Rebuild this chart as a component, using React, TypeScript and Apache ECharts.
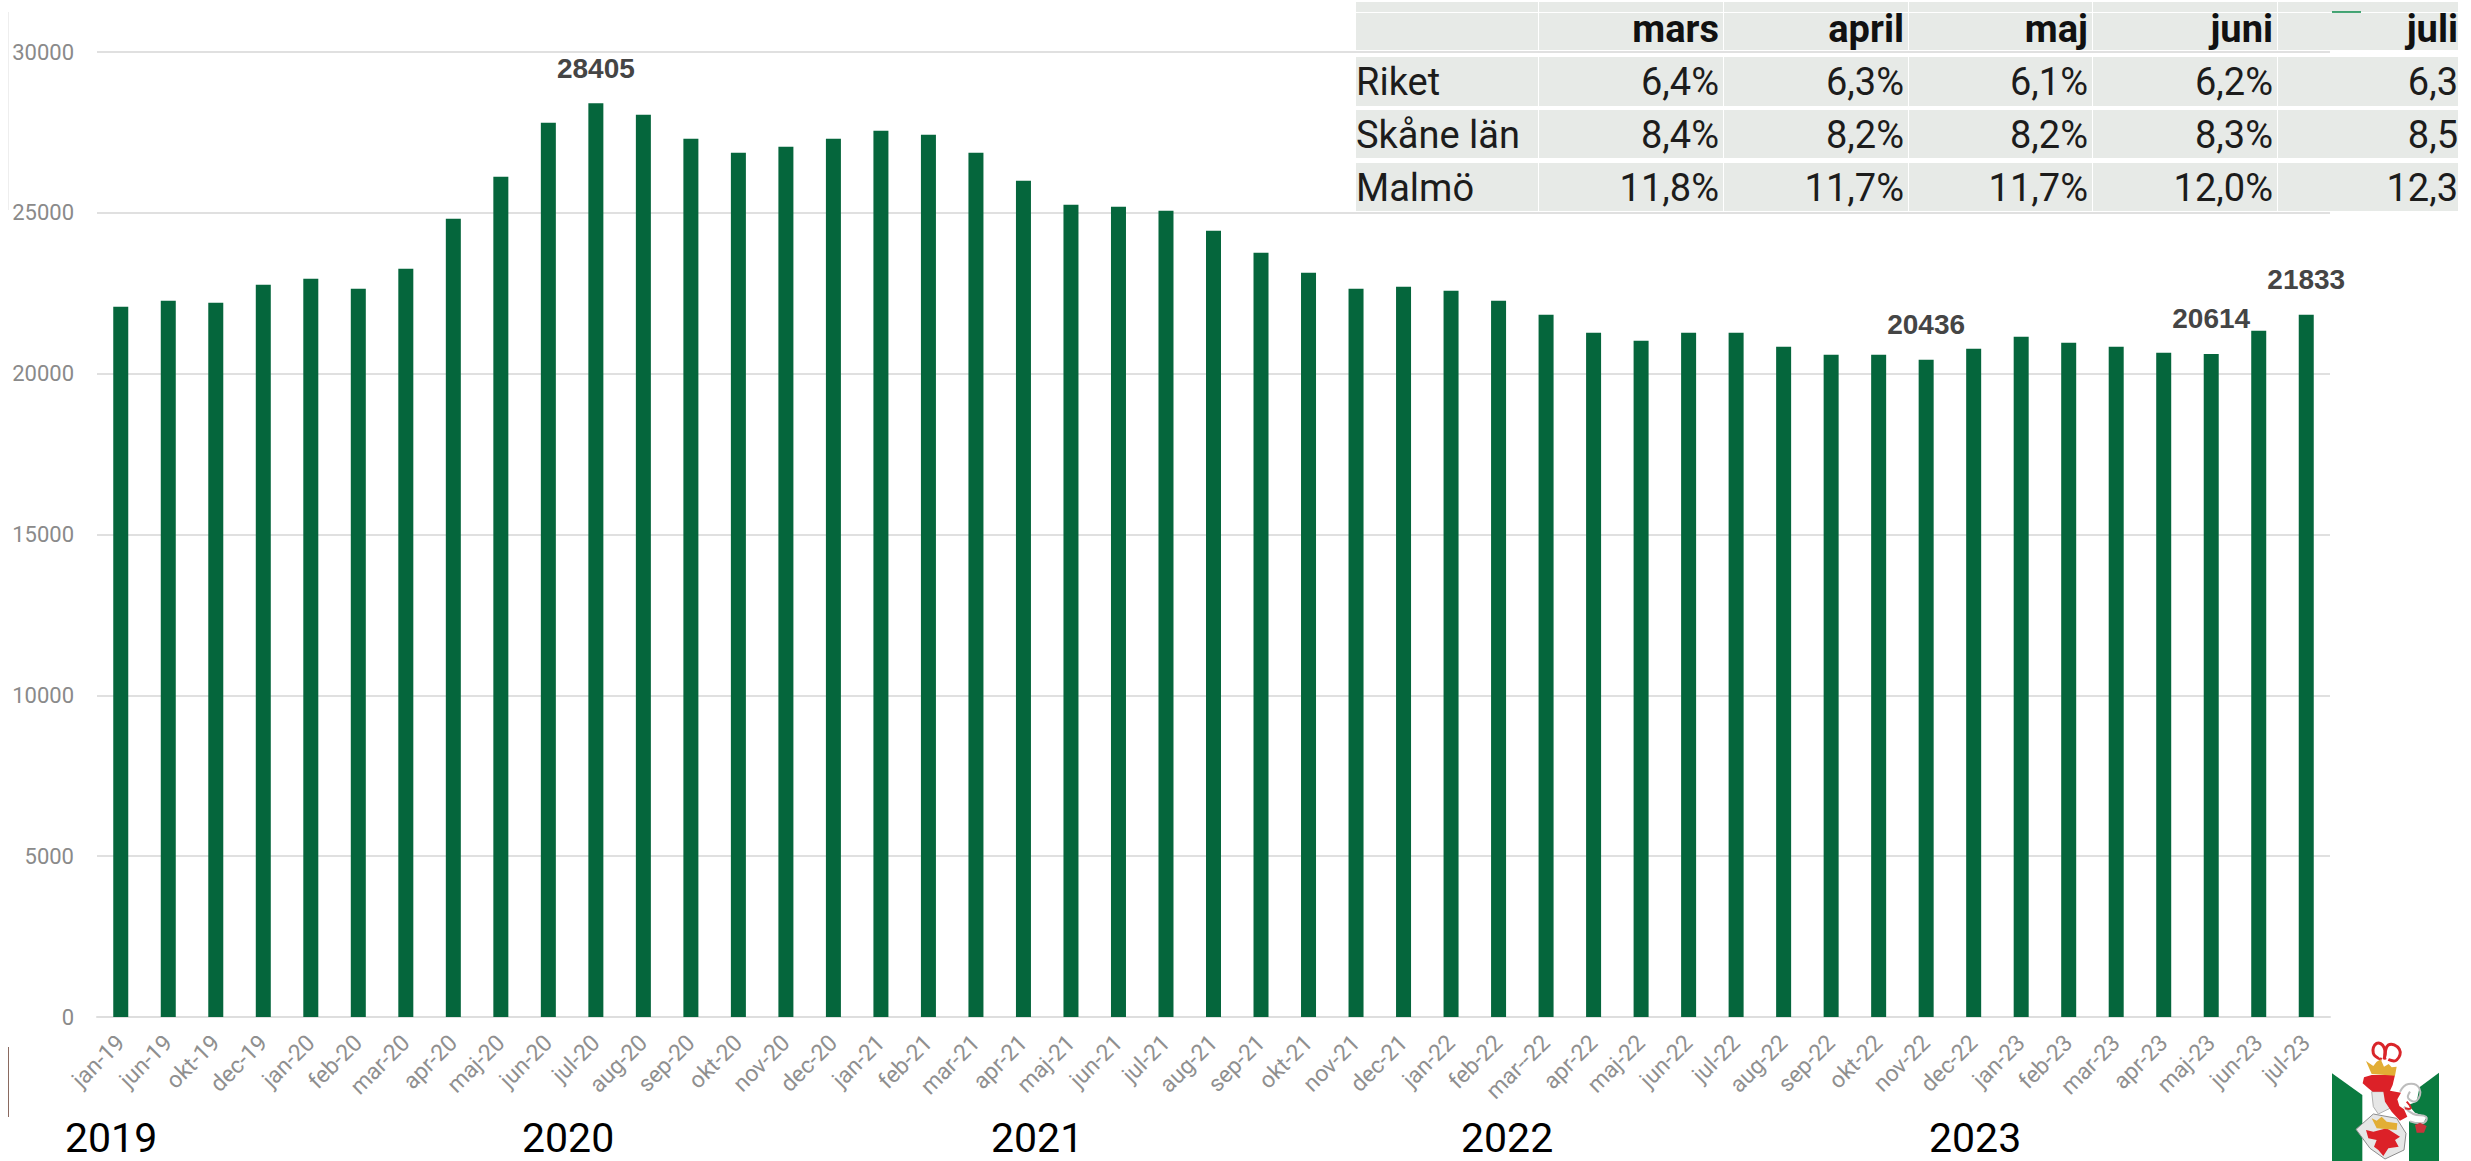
import React, { useEffect, useRef } from "react";
import * as echarts from "echarts";

const months = [
  "jan-19","jun-19","okt-19","dec-19",
  "jan-20","feb-20","mar-20","apr-20","maj-20","jun-20","jul-20","aug-20","sep-20","okt-20","nov-20","dec-20",
  "jan-21","feb-21","mar-21","apr-21","maj-21","jun-21","jul-21","aug-21","sep-21","okt-21","nov-21","dec-21",
  "jan-22","feb-22","mar--22","apr-22","maj-22","jun-22","jul-22","aug-22","sep-22","okt-22","nov-22","dec-22",
  "jan-23","feb-23","mar-23","apr-23","maj-23","jun-23","jul-23",
];
const counts = [
  22082,22270,22207,22766,
  22953,22642,23264,24817,26124,27803,28405,28051,27305,26870,27056,27305,
  27553,27429,26870,26000,25254,25192,25067,24445,23761,23137,22640,22702,
  22578,22267,21831,21272,21023,21272,21272,20837,20588,20588,20436,20775,
  21148,20961,20837,20650,20614,21334,21833,
];
const labelled = ["jul-20", "nov-22", "maj-23", "jul-23"];
const yearLabels = ["2019", "2020", "2021", "2022", "2023"];
const yearLefts = [65, 522, 991, 1461, 1929];

const tableHeaders = ["", "mars", "april", "maj", "juni", "juli"];
const tableRows = [
  ["Riket", "6,4%", "6,3%", "6,1%", "6,2%", "6,3"],
  ["Skåne län", "8,4%", "8,2%", "8,2%", "8,3%", "8,5"],
  ["Malmö", "11,8%", "11,7%", "11,7%", "12,0%", "12,3"],
];
const colEdges = [1356, 1538, 1723, 1908, 2092, 2277, 2458];
const textRights = [0, 1719, 1904, 2088, 2273, 2458];
const rowBands = [[57, 106], [110, 158], [163, 211]];
const rowCentres = [82, 135, 188];

const GREEN = "#05663C";

function logo() {
  const p = (pts: number[][]) => pts.map(([x, y]) => [2200 + x / 3, 960 + y / 3]);
  const poly = (pts: number[][], fill: string, stroke?: string, lw = 1) => ({
    type: "polygon", z: 5, shape: { points: p(pts) },
    style: { fill, stroke: stroke || "none", lineWidth: lw },
  });
  const line = (pts: number[][], stroke: string, lw = 2) => ({
    type: "polyline", z: 5, shape: { points: p(pts), smooth: 0.5 },
    style: { fill: "none", stroke, lineWidth: lw },
  });
  return [
    poly([[396, 340], [487, 405], [487, 603], [396, 603]], "#0A7B40"),
    poly([[717, 338], [627, 405], [627, 603], [717, 603]], "#0A7B40"),
    // mantling swirls
    poly([[600, 395], [625, 370], [658, 385], [650, 425], [625, 435], [645, 458], [680, 470], [670, 490], [630, 485], [605, 470]], "#ffffff"),
    line([[600, 395], [625, 372], [658, 385], [650, 422], [625, 415], [630, 395]], "#bdbdbd", 2),
    line([[612, 440], [640, 462], [678, 470], [672, 488], [630, 484]], "#bdbdbd", 2),
    poly([[645, 495], [660, 488], [680, 498], [672, 518], [650, 518]], "#c8333a"),
    line([[620, 425], [632, 445], [615, 445]], "#d9252a", 2),
    // plume
    line([[545, 298], [520, 280], [530, 250], [552, 262], [552, 298]], "#d9252a", 3),
    line([[555, 298], [565, 255], [598, 268], [590, 300], [565, 298]], "#d9252a", 3),
    poly([[540, 295], [525, 275], [535, 258], [548, 275]], "#ffffff"),
    poly([[558, 295], [568, 262], [592, 272], [585, 295]], "#ffffff"),
    // helm
    poly([[515, 395], [560, 395], [580, 440], [535, 462], [520, 440]], "#e6e6e6", "#b0b0b0"),
    // crest griffin
    poly([[492, 352], [515, 345], [585, 345], [578, 375], [570, 392], [603, 398], [592, 418], [598, 438], [612, 448], [622, 470], [600, 482],
      [575, 455], [555, 425], [550, 395], [518, 395], [505, 385], [488, 370]], "#dc2128"),
    // crown
    poly([[498, 303], [520, 318], [530, 305], [542, 298], [552, 320], [566, 312], [575, 322], [590, 320], [585, 347], [515, 342]], "#E2AE35"),
    // shield
    poly([[468, 508], [520, 462], [590, 475], [618, 520], [612, 570], [555, 597], [510, 565]], "#e6e6e6", "#8d8d8d"),
    poly([[498, 510], [520, 515], [560, 505], [600, 530], [585, 540], [596, 560], [565, 565], [550, 588], [535, 570], [522, 560], [530, 540], [505, 535]], "#dc2128"),
    poly([[515, 475], [530, 482], [545, 470], [560, 485], [592, 490], [590, 510], [530, 505]], "#E2AE35"),
  ];
}

function tableGraphics() {
  const out: any[] = [];
  const band = (x: number, y: number, w: number, h: number) => ({
    type: "rect", z: 1, shape: { x, y, width: w, height: h }, style: { fill: "#E7EAE7" },
  });
  for (let c = 0; c < colEdges.length - 1; c++) {
    const x = colEdges[c] + (c ? 1 : 0);
    const w = colEdges[c + 1] - colEdges[c] - (c ? 1 : 0);
    out.push(band(x, 2, w, 10), band(x, 13, w, 37));
    rowBands.forEach(([a, b]) => out.push(band(x, a, w, b - a)));
  }
  tableHeaders.forEach((t, c) => {
    if (!t) return;
    out.push({
      type: "text", z: 3,
      style: { text: t, x: textRights[c], y: 29, fill: "#111111", font: "bold 38px Roboto", align: "right", verticalAlign: "middle" },
    });
  });
  tableRows.forEach((row, r) => {
    row.forEach((t, c) => {
      out.push({
        type: "text", z: 3,
        style: {
          text: t, x: c === 0 ? 1356 : textRights[c], y: rowCentres[r],
          fill: "#1c1c1c", font: "38px Roboto", align: c === 0 ? "left" : "right", verticalAlign: "middle",
        },
      });
    });
  });
  out.push({ type: "line", z: 3, shape: { x1: 2332, y1: 12, x2: 2361, y2: 12 }, style: { stroke: "#0A8A4A", lineWidth: 1.5 } });
  return out;
}

function yearGraphics() {
  return yearLabels.map((t, i) => ({
    type: "text", z: 3,
    style: { text: t, x: yearLefts[i], y: 1138, fill: "#000000", font: "41px Roboto", align: "left", verticalAlign: "middle" },
  }));
}

export default function App() {
  const ref = useRef<HTMLDivElement>(null);
  useEffect(() => {
    document.body.style.margin = "0";
    document.body.style.overflow = "hidden";
    const chart = echarts.init(ref.current!, undefined, { renderer: "svg" });
    chart.setOption({
      animation: false,
      backgroundColor: "#ffffff",
      grid: { left: 97, right: 141, top: 52, bottom: 144 },
      xAxis: {
        type: "category",
        data: months,
        axisTick: { show: false },
        axisLine: { lineStyle: { color: "#dedede", width: 2 } },
        axisLabel: {
          interval: 0, rotate: 45, margin: 22, color: "#8f8f8f",
          fontFamily: "Roboto", fontSize: 23,
        },
      },
      yAxis: {
        type: "value", min: 0, max: 30000, interval: 5000,
        axisLine: { show: false }, axisTick: { show: false },
        splitLine: { lineStyle: { color: "#e0e0e0", width: 2 } },
        axisLabel: {
          margin: 23, color: "#8a8a8a", fontFamily: "Roboto", fontSize: 22,
          padding: [0, 0, 5, 0],
          formatter: (v: number) => String(v),
        },
      },
      series: [{
        type: "bar",
        barWidth: 15,
        itemStyle: { color: GREEN },
        data: counts.map((v, i) =>
          labelled.includes(months[i])
            ? { value: v, label: {
                show: true, position: "top", distance: 21,
                color: "#454545", fontFamily: "Liberation Sans", fontWeight: "bold", fontSize: 28,
              } }
            : v),
      }],
      graphic: { elements: [
        ...tableGraphics(),
        ...yearGraphics(),
        ...logo(),
        { type: "line", shape: { x1: 8.5, y1: 1047, x2: 8.5, y2: 1117 }, style: { stroke: "#8a6a60", lineWidth: 1 } },
        { type: "line", shape: { x1: 8.5, y1: 12, x2: 8.5, y2: 210 }, style: { stroke: "#eeeeee", lineWidth: 1 } },
      ] },
    });
    return () => chart.dispose();
  }, []);
  return <div ref={ref} style={{ position: "absolute", left: 0, top: 0, width: 2471, height: 1161 }} />;
}
